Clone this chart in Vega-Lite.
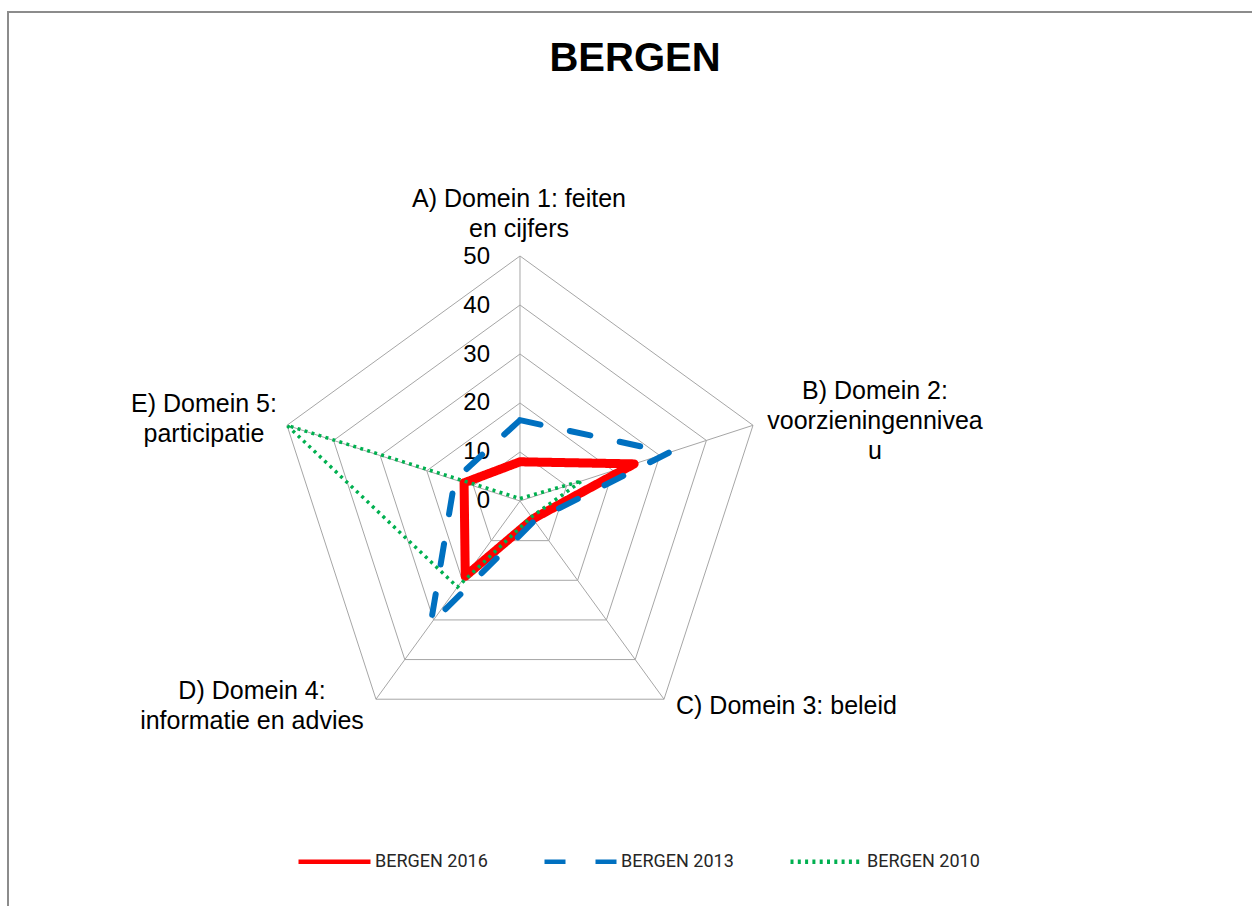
{
  "$schema": "https://vega.github.io/schema/vega-lite/v6.json",
  "width": 1254,
  "height": 904,
  "autosize": {"type": "none"},
  "padding": {"left": 8, "top": 12, "right": -10, "bottom": -10},
  "background": "white",
  "config": {"view": {"stroke": "#8c8c8c", "strokeWidth": 2}},
  "title": {
    "text": "BERGEN",
    "font": "Liberation Sans",
    "fontSize": 40,
    "fontWeight": "bold",
    "color": "#000000",
    "anchor": "middle",
    "baseline": "alphabetic",
    "offset": -99
  },
  "datasets": {
    "series": [
      {"series": "BERGEN 2016", "idx": 0, "value": 8},
      {"series": "BERGEN 2016", "idx": 1, "value": 24.5},
      {"series": "BERGEN 2016", "idx": 2, "value": 4.5},
      {"series": "BERGEN 2016", "idx": 3, "value": 19},
      {"series": "BERGEN 2016", "idx": 4, "value": 12},
      {"series": "BERGEN 2013", "idx": 0, "value": 16.5},
      {"series": "BERGEN 2013", "idx": 1, "value": 32},
      {"series": "BERGEN 2013", "idx": 2, "value": 5},
      {"series": "BERGEN 2013", "idx": 3, "value": 31},
      {"series": "BERGEN 2013", "idx": 4, "value": 14},
      {"series": "BERGEN 2010", "idx": 0, "value": 0.5},
      {"series": "BERGEN 2010", "idx": 1, "value": 13.3},
      {"series": "BERGEN 2010", "idx": 2, "value": 4},
      {"series": "BERGEN 2010", "idx": 3, "value": 21.7},
      {"series": "BERGEN 2010", "idx": 4, "value": 50}
    ],
    "domains": [
      {"idx": 0, "label": "A) Domein 1: feiten\nen cijfers"},
      {"idx": 1, "label": "B) Domein 2:\nvoorzieningennivea\nu"},
      {"idx": 2, "label": "C) Domein 3: beleid"},
      {"idx": 3, "label": "D) Domein 4:\ninformatie en advies"},
      {"idx": 4, "label": "E) Domein 5:\nparticipatie"}
    ],
    "levels": [
      {"level": 0}, {"level": 10}, {"level": 20}, {"level": 30}, {"level": 40}, {"level": 50}
    ],
    "grid": [
      {"level": 10, "idx": 0}, {"level": 10, "idx": 1}, {"level": 10, "idx": 2}, {"level": 10, "idx": 3}, {"level": 10, "idx": 4},
      {"level": 20, "idx": 0}, {"level": 20, "idx": 1}, {"level": 20, "idx": 2}, {"level": 20, "idx": 3}, {"level": 20, "idx": 4},
      {"level": 30, "idx": 0}, {"level": 30, "idx": 1}, {"level": 30, "idx": 2}, {"level": 30, "idx": 3}, {"level": 30, "idx": 4},
      {"level": 40, "idx": 0}, {"level": 40, "idx": 1}, {"level": 40, "idx": 2}, {"level": 40, "idx": 3}, {"level": 40, "idx": 4},
      {"level": 50, "idx": 0}, {"level": 50, "idx": 1}, {"level": 50, "idx": 2}, {"level": 50, "idx": 3}, {"level": 50, "idx": 4}
    ]
  },
  "encoding": {
    "x": {"field": "px", "type": "quantitative", "scale": {"domain": [-104.49, 151.429], "nice": false, "zero": false}, "axis": null},
    "y": {"field": "py", "type": "quantitative", "scale": {"domain": [-84.694, 99.796], "nice": false, "zero": false}, "axis": null}
  },
  "layer": [
    {
      "data": {"name": "grid"},
      "transform": [
        {"calculate": "datum.level * sin(datum.idx * 2 * PI / 5)", "as": "px"},
        {"calculate": "datum.level * cos(datum.idx * 2 * PI / 5)", "as": "py"}
      ],
      "mark": {"type": "line", "interpolate": "linear-closed", "stroke": "#a6a6a6", "strokeWidth": 1},
      "encoding": {
        "detail": {"field": "level", "type": "nominal"},
        "order": {"field": "idx", "type": "quantitative"}
      }
    },
    {
      "data": {"name": "domains"},
      "transform": [
        {"calculate": "50 * sin(datum.idx * 2 * PI / 5)", "as": "px"},
        {"calculate": "50 * cos(datum.idx * 2 * PI / 5)", "as": "py"}
      ],
      "mark": {"type": "rule", "stroke": "#a6a6a6", "strokeWidth": 1},
      "encoding": {
        "x2": {"datum": 0},
        "y2": {"datum": 0}
      }
    },
    {
      "data": {"name": "levels"},
      "transform": [
        {"calculate": "0", "as": "px"},
        {"calculate": "datum.level", "as": "py"}
      ],
      "mark": {"type": "text", "align": "right", "baseline": "alphabetic", "dx": -30, "dy": 7.5, "font": "Liberation Sans", "fontSize": 24, "color": "#000000"},
      "encoding": {"text": {"field": "level", "type": "quantitative"}}
    },
    {
      "data": {"name": "series"},
      "transform": [
        {"calculate": "datum.value * sin(datum.idx * 2 * PI / 5)", "as": "px"},
        {"calculate": "datum.value * cos(datum.idx * 2 * PI / 5)", "as": "py"}
      ],
      "encoding": {
        "order": {"field": "idx", "type": "quantitative"},
        "color": {
          "field": "series", "type": "nominal",
          "scale": {"domain": ["BERGEN 2016", "BERGEN 2013", "BERGEN 2010"], "range": ["#FF0000", "#0070C0", "#00B050"]},
          "legend": {"title": null, "orient": "none", "legendX": 288, "legendY": 811, "direction": "horizontal", "symbolType": "stroke", "symbolSize": 5184, "symbolStrokeWidth": 4.5, "labelFont": "Roboto", "labelFontSize": 18, "labelColor": "#262626", "labelOffset": 2, "columnPadding": 47, "padding": 0}
        },
        "strokeDash": {
          "field": "series", "type": "nominal",
          "scale": {"domain": ["BERGEN 2016", "BERGEN 2013", "BERGEN 2010"], "range": [[1, 0], [21, 30], [3, 4.3]]},
          "legend": {"title": null, "orient": "none", "legendX": 288, "legendY": 811, "direction": "horizontal", "symbolType": "stroke", "symbolSize": 5184, "symbolStrokeWidth": 4.5, "labelFont": "Roboto", "labelFontSize": 18, "labelColor": "#262626", "labelOffset": 2, "columnPadding": 47, "padding": 0}
        }
      },
      "layer": [
        {
          "transform": [{"filter": "datum.series === 'BERGEN 2016'"}],
          "mark": {"type": "line", "interpolate": "linear-closed", "strokeWidth": 9, "strokeJoin": "round", "strokeCap": "round"}
        },
        {
          "transform": [{"filter": "datum.series === 'BERGEN 2013'"}],
          "mark": {"type": "line", "interpolate": "linear-closed", "strokeWidth": 6, "strokeJoin": "round", "strokeCap": "round"}
        },
        {
          "transform": [{"filter": "datum.series === 'BERGEN 2010'"}],
          "mark": {"type": "line", "interpolate": "linear-closed", "strokeWidth": 3.5, "strokeCap": "butt"}
        }
      ]
    },
    {
      "data": {"name": "domains"},
      "transform": [
        {"calculate": "50 * sin(datum.idx * 2 * PI / 5)", "as": "px"},
        {"calculate": "50 * cos(datum.idx * 2 * PI / 5)", "as": "py"}
      ],
      "encoding": {"text": {"field": "label", "type": "nominal"}},
      "layer": [
        {"transform": [{"filter": "datum.idx === 0"}], "mark": {"type": "text", "align": "center", "baseline": "alphabetic", "lineBreak": "\n", "lineHeight": 29.5, "dx": -1, "dy": -48.7, "font": "Liberation Sans", "fontSize": 25, "color": "#000000"}},
        {"transform": [{"filter": "datum.idx === 1"}], "mark": {"type": "text", "align": "center", "baseline": "alphabetic", "lineBreak": "\n", "lineHeight": 30, "dx": 122, "dy": -26, "font": "Liberation Sans", "fontSize": 25, "color": "#000000"}},
        {"transform": [{"filter": "datum.idx === 2"}], "mark": {"type": "text", "align": "center", "baseline": "alphabetic", "lineBreak": "\n", "lineHeight": 30, "dx": 122.5, "dy": 14.3, "font": "Liberation Sans", "fontSize": 25, "color": "#000000"}},
        {"transform": [{"filter": "datum.idx === 3"}], "mark": {"type": "text", "align": "center", "baseline": "alphabetic", "lineBreak": "\n", "lineHeight": 30, "dx": -124, "dy": -0.7, "font": "Liberation Sans", "fontSize": 25, "color": "#000000"}},
        {"transform": [{"filter": "datum.idx === 4"}], "mark": {"type": "text", "align": "center", "baseline": "alphabetic", "lineBreak": "\n", "lineHeight": 30, "dx": -83, "dy": -12.8, "font": "Liberation Sans", "fontSize": 25, "color": "#000000"}}
      ]
    }
  ]
}
